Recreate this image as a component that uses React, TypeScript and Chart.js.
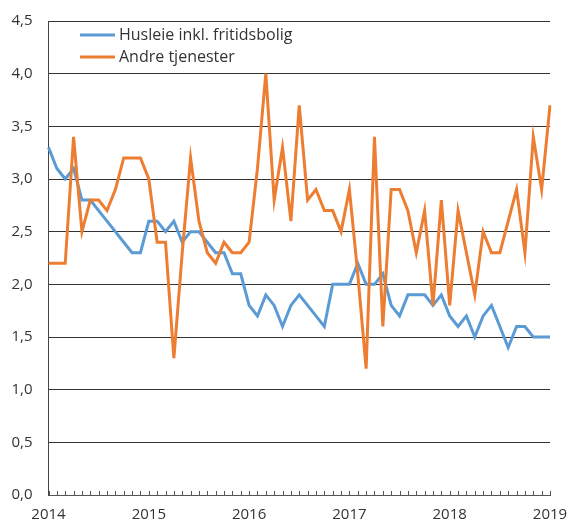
import React, { useEffect, useRef } from "react";
import { Chart, registerables } from "chart.js";

Chart.register(...registerables);

const years = [2014, 2015, 2016, 2017, 2018, 2019];
const monthLabels: string[] = [];
years.forEach((y) => {
  for (let m = 1; m <= 12; m++) {
    if (y === 2019 && m > 1) break;
    monthLabels.push(`${y}-${m < 10 ? "0" + m : m}`);
  }
});

const seriesNames = ["Husleie inkl. fritidsbolig", "Andre tjenester"];

const husleie = [
  3.3, 3.1, 3.0, 3.1, 2.8, 2.8, 2.7, 2.6, 2.5, 2.4, 2.3, 2.3,
  2.6, 2.6, 2.5, 2.6, 2.4, 2.5, 2.5, 2.4, 2.3, 2.3, 2.1, 2.1,
  1.8, 1.7, 1.9, 1.8, 1.6, 1.8, 1.9, 1.8, 1.7, 1.6, 2.0, 2.0,
  2.0, 2.2, 2.0, 2.0, 2.1, 1.8, 1.7, 1.9, 1.9, 1.9, 1.8, 1.9,
  1.7, 1.6, 1.7, 1.5, 1.7, 1.8, 1.6, 1.4, 1.6, 1.6, 1.5, 1.5,
  1.5,
];

const andre = [
  2.2, 2.2, 2.2, 3.4, 2.5, 2.8, 2.8, 2.7, 2.9, 3.2, 3.2, 3.2,
  3.0, 2.4, 2.4, 1.3, 2.3, 3.2, 2.6, 2.3, 2.2, 2.4, 2.3, 2.3,
  2.4, 3.1, 4.0, 2.8, 3.3, 2.6, 3.7, 2.8, 2.9, 2.7, 2.7, 2.5,
  2.9, 2.1, 1.2, 3.4, 1.6, 2.9, 2.9, 2.7, 2.3, 2.7, 1.8, 2.8,
  1.8, 2.7, 2.3, 1.9, 2.5, 2.3, 2.3, 2.6, 2.9, 2.3, 3.4, 2.9,
  3.7,
];

const colors = ["#5B9BD5", "#ED7D31"];
const FONT = "'Open Sans', sans-serif";
const TEXT = "#333333";

const overlayPlugin = {
  id: "overlay",
  afterDraw(chart: any) {
    const ctx = chart.ctx;
    const area = chart.chartArea;
    const xs = chart.scales.x;
    ctx.save();
    ctx.strokeStyle = "#555555";
    ctx.lineWidth = 1;
    for (let i = 0; i < monthLabels.length; i++) {
      const x = Math.round(xs.getPixelForValue(i)) + 0.5;
      ctx.beginPath();
      ctx.moveTo(x, area.bottom);
      ctx.lineTo(x, area.bottom - 4);
      ctx.stroke();
    }
    ctx.font = `16px ${FONT}`;
    ctx.textBaseline = "middle";
    ctx.fillStyle = TEXT;
    seriesNames.forEach((name, k) => {
      const y = 35 + k * 22;
      ctx.strokeStyle = colors[k];
      ctx.lineWidth = 3;
      ctx.beginPath();
      ctx.moveTo(80, y);
      ctx.lineTo(115, y);
      ctx.stroke();
      ctx.fillText(name, 119, y);
    });
    ctx.restore();
  },
};

export default function App() {
  const ref = useRef<HTMLCanvasElement>(null);
  useEffect(() => {
    if (!ref.current) return;
    const chart = new Chart(ref.current, {
      type: "line",
      data: {
        labels: monthLabels,
        datasets: [
          {
            label: seriesNames[0],
            data: husleie,
            borderColor: colors[0],
            backgroundColor: colors[0],
            borderWidth: 3,
            pointRadius: 0,
            tension: 0,
            order: 1,
          },
          {
            label: seriesNames[1],
            data: andre,
            borderColor: colors[1],
            backgroundColor: colors[1],
            borderWidth: 3,
            pointRadius: 0,
            tension: 0,
            order: 0,
          },
        ],
      },
      options: {
        animation: false,
        responsive: false,
        maintainAspectRatio: false,
        layout: { padding: { left: 0, right: 18, top: 21, bottom: 0 } },
        plugins: { legend: { display: false }, tooltip: { enabled: false } },
        scales: {
          x: {
            type: "category",
            offset: false,
            grid: { display: false, drawTicks: false },
            border: { display: true, color: "#555555" },
            afterFit(scale: any) {
              scale.height = 26;
              scale.paddingLeft = 0;
              scale.paddingRight = 0;
            },
            ticks: {
              autoSkip: false,
              maxRotation: 0,
              padding: 11,
              color: TEXT,
              font: { family: FONT, size: 15 },
              callback: (_v: any, i: number) => {
                const lbl = monthLabels[i];
                return lbl.endsWith("-01") ? lbl.slice(0, 4) : "";
              },
            },
          },
          y: {
            min: 0,
            max: 4.5,
            afterFit(scale: any) {
              scale.width = 48.5;
              scale.paddingTop = 0;
              scale.paddingBottom = 0;
            },
            grid: { color: "#333333", lineWidth: 1, drawTicks: false },
            border: { display: true, color: "#444444" },
            ticks: {
              stepSize: 0.5,
              padding: 16,
              color: TEXT,
              font: { family: FONT, size: 15 },
              callback: (v: any) => Number(v).toFixed(1).replace(".", ","),
            },
          },
        },
      },
      plugins: [overlayPlugin],
    });
    return () => chart.destroy();
  }, []);
  return (
    <div style={{ position: "fixed", left: 0, top: 0, width: 568, height: 521, background: "#fff" }}>
      <canvas ref={ref} width={568} height={521} style={{ width: 568, height: 521 }} />
    </div>
  );
}
